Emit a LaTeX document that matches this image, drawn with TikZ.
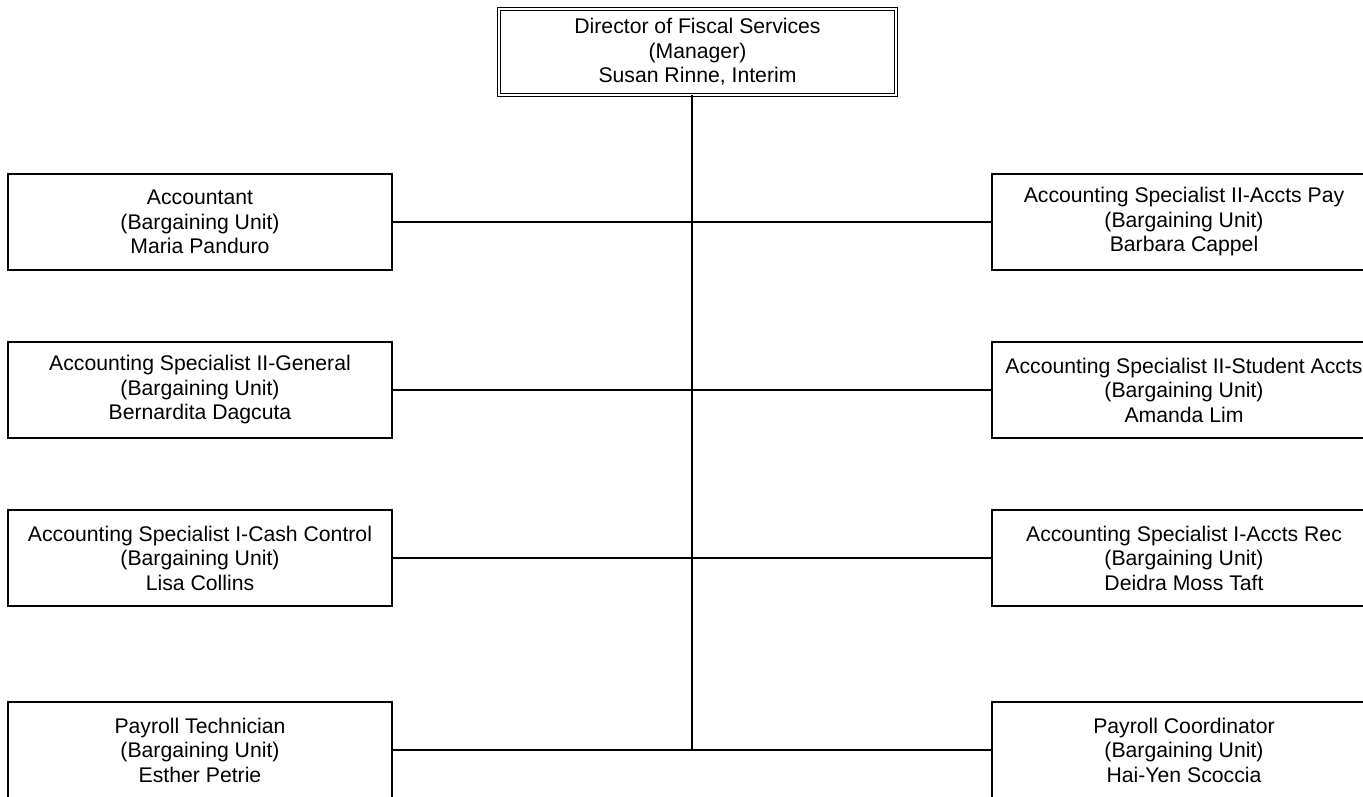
\documentclass[tikz,border=0pt]{standalone}
\usepackage{fontspec}
\setmainfont{Liberation Sans}
\begin{document}
\begin{tikzpicture}[x=1pt,y=-1pt,
  posbox/.style={draw=black,line width=1.3pt,minimum width=384pt,minimum height=96pt,inner sep=0pt,outer sep=0pt,align=center,anchor=north west,font=\fontsize{21.2}{24.5}\selectfont},
  topbox/.style={draw=black,line width=1pt,double=white,double distance=2.5pt,minimum width=397pt,minimum height=86pt,inner sep=0pt,outer sep=0pt,align=center,font=\fontsize{21.2}{24.5}\selectfont},
  conn/.style={draw=black,line width=1.8pt},
  trunk/.style={draw=black,line width=2.4pt}]
\useasboundingbox (0,0) rectangle (1363,796);
\clip (0,0) rectangle (1363,796);
\node[topbox] (top) at (697.5,52) {Director of Fiscal Services\\(Manager)\\Susan Rinne, Interim};
\node[posbox] (L1) at (8,174) {Accountant\\(Bargaining Unit)\\Maria Panduro};
\node[posbox] (L2) at (8,342) {Accounting Specialist II-General\\(Bargaining Unit)\\Bernardita Dagcuta};
\node[posbox] (L3) at (8,510) {Accounting Specialist I-Cash Control\\(Bargaining Unit)\\Lisa Collins};
\node[posbox] (L4) at (8,702) {Payroll Technician\\(Bargaining Unit)\\Esther Petrie};
\node[posbox] (R1) at (992,174) {Accounting Specialist II-Accts Pay\\(Bargaining Unit)\\Barbara Cappel};
\node[posbox] (R2) at (992,342) {Accounting Specialist II-Student Accts\\(Bargaining Unit)\\Amanda Lim};
\node[posbox] (R3) at (992,510) {Accounting Specialist I-Accts Rec\\(Bargaining Unit)\\Deidra Moss Taft};
\node[posbox] (R4) at (992,702) {Payroll Coordinator\\(Bargaining Unit)\\Hai-Yen Scoccia};
\coordinate (bend) at (692,750);
\draw[conn] (L1.east) -- (R1.west);
\draw[conn] (L2.east) -- (R2.west);
\draw[conn] (L3.east) -- (R3.west);
\draw[conn] (L4.east) -- (R4.west);
\draw[trunk] (top.south -| bend) -- (bend);
\end{tikzpicture}
\end{document}
